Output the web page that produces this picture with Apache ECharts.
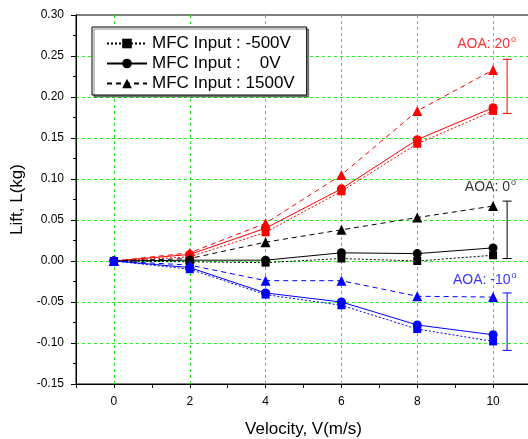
<!DOCTYPE html>
<html><head><meta charset="utf-8">
<script src="https://cdn.jsdelivr.net/npm/echarts@6/dist/echarts.min.js"></script>
<style>html,body{margin:0;padding:0;background:#fff}#c{width:528px;height:439px}</style>
</head><body><div id="c"></div>
<script>
// ---- data ----
const velocity = [0, 2, 4, 6, 8, 10];
const xTickValues = [0, 2, 4, 6, 8, 10];
const legendNames = ['MFC Input : -500V', 'MFC Input :    0V', 'MFC Input : 1500V'];

// AOA 20 deg (red)
const aoa20_m500 = [0, 0.005, 0.035, 0.085, 0.143, 0.183];
const aoa20_0v   = [0, 0.008, 0.040, 0.088, 0.148, 0.187];
const aoa20_1500 = [0, 0.010, 0.046, 0.105, 0.183, 0.233];
// AOA 0 deg (black)
const aoa0_m500  = [0, -0.001, -0.002, 0.003, 0.000, 0.007];
const aoa0_0v    = [0, 0.001, 0.001, 0.010, 0.009, 0.016];
const aoa0_1500  = [0, 0.003, 0.023, 0.038, 0.053, 0.067];
// AOA -10 deg (blue)
const aoaM10_m500 = [0, -0.010, -0.041, -0.054, -0.083, -0.098];
const aoaM10_0v   = [0, -0.008, -0.039, -0.050, -0.078, -0.090];
const aoaM10_1500 = [0, -0.005, -0.024, -0.024, -0.043, -0.044];

// range bars [x, low, high]
const rangeBars = [[10.37, 0.180, 0.246], [10.37, 0.003, 0.073], [10.37, -0.109, -0.039]];
// annotation labels [x, y, text]
const annotations = [[9.83, 0.264, 'AOA: 20'], [9.93, 0.090, 'AOA: 0'], [9.78, -0.0235, 'AOA: -10']];

// ---- styles ----
const RED = '#ff0000', BLACK = '#000000', BLUE = '#0000ff', GREEN = '#22ee22';
const kinds = {
  m500: {symbol: 'rect', size: 8, type: [2, 2]},
  v0:   {symbol: 'circle', size: 9, type: 'solid'},
  p1500:{symbol: 'triangle', size: 10, type: [5, 4]}
};
const FONT = 'Liberation Sans';
const series = [];
function mk(name, vals, color, kind) {
  const k = kinds[kind];
  series.push({
    type: 'line', name: name,
    data: velocity.map((v, i) => [v, vals[i]]),
    symbol: k.symbol, symbolSize: k.size,
    itemStyle: {color: color, borderWidth: 0, opacity: 1},
    lineStyle: {color: color, width: 1, type: k.type},
    emphasis: {disabled: true},
    animation: false, z: 3
  });
}
mk('r-500', aoa20_m500, RED, 'm500');
mk('r0', aoa20_0v, RED, 'v0');
mk('r1500', aoa20_1500, RED, 'p1500');
mk(legendNames[0], aoa0_m500, BLACK, 'm500');
mk(legendNames[1], aoa0_0v, BLACK, 'v0');
mk(legendNames[2], aoa0_1500, BLACK, 'p1500');
mk('b-500', aoaM10_m500, BLUE, 'm500');
mk('b0', aoaM10_0v, BLUE, 'v0');
mk('b1500', aoaM10_1500, BLUE, 'p1500');
series.push(
  {
    type: 'line', name: 'vgrid', data: [], silent: true, animation: false, z: 1,
    markLine: {
      z: 1,
      silent: true, symbol: ['none', 'none'], label: {show: false}, animation: false,
      lineStyle: {color: GREEN, type: [3, 3], width: 1},
      emphasis: {disabled: true},
      data: xTickValues.map(v => ({xAxis: v}))
    }
  },
  {
    type: 'custom', name: 'range', data: rangeBars, animation: false, z: 4, clip: false,
    renderItem: function (params, api) {
      const cols = [RED, BLACK, BLUE];
      const c = cols[params.dataIndex];
      const x = api.value(0);
      const p1 = api.coord([x, api.value(1)]);
      const p2 = api.coord([x, api.value(2)]);
      const st = {stroke: c, lineWidth: 1};
      const w = 4.5;
      return {type: 'group', children: [
        {type: 'line', shape: {x1: p1[0], y1: p1[1], x2: p2[0], y2: p2[1]}, style: st},
        {type: 'line', shape: {x1: p1[0] - w, y1: p1[1], x2: p1[0] + w, y2: p1[1]}, style: st},
        {type: 'line', shape: {x1: p2[0] - w, y1: p2[1], x2: p2[0] + w, y2: p2[1]}, style: st}
      ]};
    }
  },
  {
    type: 'scatter', name: 'ann', symbolSize: 0, silent: true, animation: false, z: 5,
    data: annotations.map((a, i) => ({
      value: [a[0], a[1]], name: a[2],
      label: {color: [RED, BLACK, BLUE][i]}
    })),
    label: {
      show: true, position: 'inside', fontFamily: FONT, fontSize: 14,
      formatter: p => '{t|' + p.name + '}{s|o}',
      rich: {
        t: {fontFamily: FONT, fontSize: 14},
        s: {fontFamily: FONT, fontSize: 9, padding: [0, 0, 10, 1]}
      }
    }
  }
);

const chart = echarts.init(document.getElementById('c'), null, {renderer: 'canvas'});
chart.setOption({
  backgroundColor: '#ffffff',
  animation: false,
  grid: {left: 76, top: 15, right: -3, bottom: 55, show: true, borderColor: '#000', borderWidth: 1,
         backgroundColor: 'transparent', outerBoundsMode: 'none', containLabel: false},
  legend: {
    data: legendNames.map(n => ({name: n})),
    orient: 'vertical', left: 92, top: 27,
    itemWidth: 40, itemHeight: 12, itemGap: 3,
    padding: [8, 12, 3, 14],
    borderColor: '#000', borderWidth: 1, backgroundColor: '#fff',
    shadowColor: 'rgba(0,0,0,0.45)', shadowOffsetX: 2, shadowOffsetY: 2, shadowBlur: 0,
    selectedMode: false,
    textStyle: {fontFamily: FONT, fontSize: 17, color: '#000'}
  },
  xAxis: {
    type: 'value', min: -1, max: 11, interval: 1,
    name: 'Velocity, V(m/s)', nameLocation: 'middle', nameGap: 37,
    nameTextStyle: {fontFamily: FONT, fontSize: 17, color: '#000'},
    axisLine: {show: true, onZero: false, lineStyle: {color: '#000', width: 1}},
    axisTick: {show: true, inside: false, length: 4, lineStyle: {color: '#000'}},
    axisLabel: {
      fontFamily: FONT, fontSize: 12, color: '#000', margin: 12,
      formatter: v => (xTickValues.indexOf(v) >= 0 ? String(v) : '')
    },
    splitLine: {show: false}
  },
  yAxis: {
    type: 'value', min: -0.15, max: 0.30, interval: 0.05,
    name: 'Lift, L(kg)', nameLocation: 'middle', nameGap: 50, nameRotate: 90,
    nameTextStyle: {fontFamily: FONT, fontSize: 17, color: '#000'},
    axisLine: {show: true, onZero: false, lineStyle: {color: '#000', width: 1}},
    axisTick: {show: true, inside: false, length: 5, lineStyle: {color: '#000'}},
    minorTick: {show: true, splitNumber: 2, length: 3, lineStyle: {color: '#000'}},
    axisLabel: {
      fontFamily: FONT, fontSize: 12, color: '#000', margin: 12,
      formatter: v => v.toFixed(2)
    },
    splitLine: {show: true, lineStyle: {color: ['rgba(0,0,0,0)', GREEN, GREEN, GREEN, GREEN, GREEN, GREEN, GREEN, GREEN], type: [3, 3], width: 1}}
  },
  series: series
});
</script></body></html>
